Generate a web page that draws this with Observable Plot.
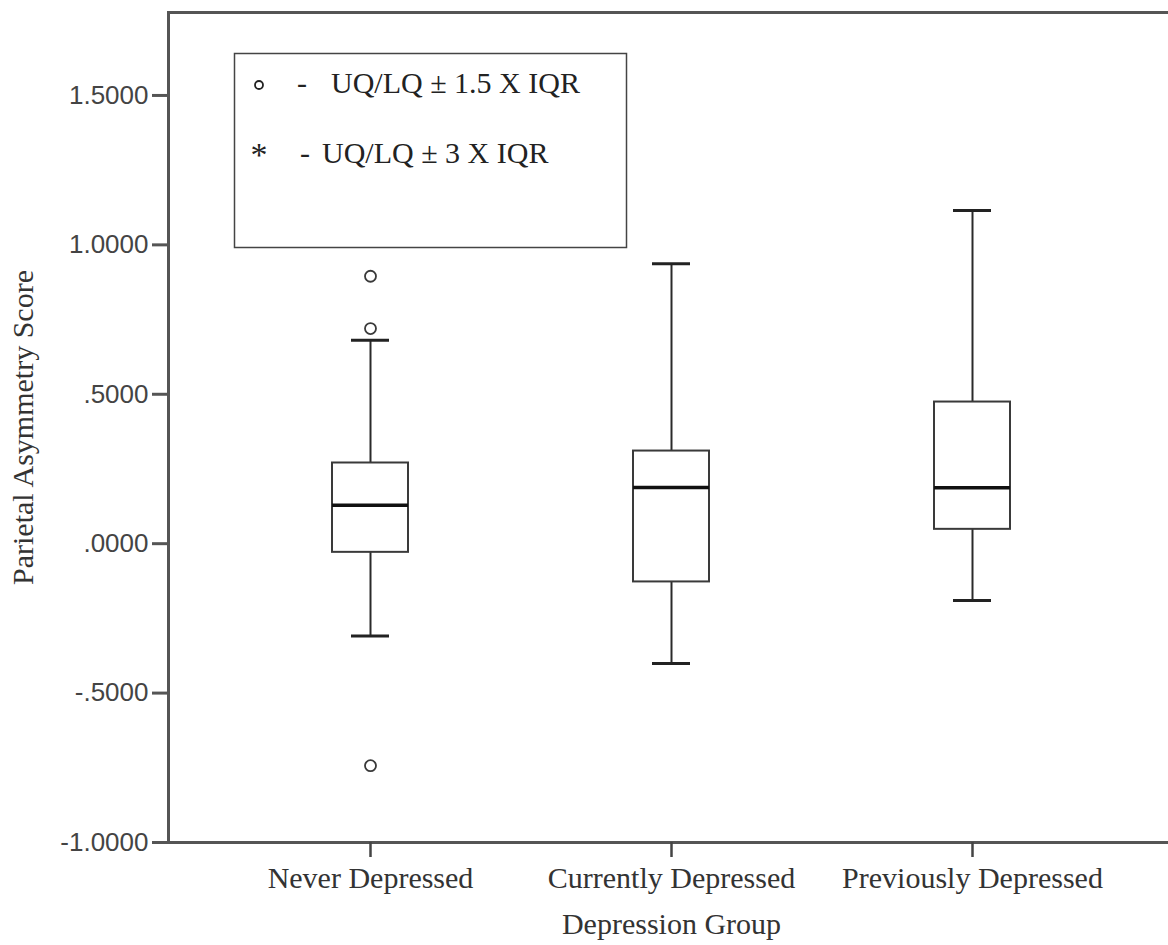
<!DOCTYPE html>
<html><head><meta charset="utf-8">
<script src="https://cdn.jsdelivr.net/npm/d3@7"></script>
<script src="https://cdn.jsdelivr.net/npm/@observablehq/plot@0.6"></script>
<style>
html,body{margin:0;padding:0;background:#fff;overflow:hidden;}
#wrap{position:relative;width:1168px;height:945px;overflow:hidden;}
#wrap svg{max-width:none !important;}
</style></head><body><div id="wrap"></div>
<script>
const groups = ["Never Depressed", "Currently Depressed", "Previously Depressed"];
const whiskerLow = [-0.309, -0.401, -0.190];
const q1 = [-0.029, -0.128, 0.048];
const median = [0.129, 0.188, 0.187];
const q3 = [0.270, 0.310, 0.474];
const whiskerHigh = [0.681, 0.937, 1.115];
const outlierGroup = ["Never Depressed", "Never Depressed", "Never Depressed"];
const outlierValue = [0.895, 0.720, -0.743];
const yTicks = [-1, -0.5, 0, 0.5, 1, 1.5];
const yTickLabels = ["-1.0000", "-.5000", ".0000", ".5000", "1.0000", "1.5000"];
const xTitle = "Depression Group";
const yTitle = "Parietal Asymmetry Score";
const legendLabels = ["UQ/LQ \u00b1 1.5 X IQR", "UQ/LQ \u00b1 3 X IQR"];

const boxes = groups.map((g, i) => ({group: g, lo: whiskerLow[i], q1: q1[i], med: median[i], q3: q3[i], hi: whiskerHigh[i]}));
const outliers = outlierGroup.map((g, i) => ({group: g, value: outlierValue[i]}));

const serif = "'Liberation Serif', 'Times New Roman', serif";
const sans = "'Liberation Sans', Arial, sans-serif";

const chart = Plot.plot({
  width: 1180, height: 945,
  marginLeft: 168, marginRight: 6, marginTop: 12, marginBottom: 103,
  style: {background: "#fff", fontFamily: serif, overflow: "visible", maxWidth: "none"},
  x: {type: "band", domain: groups, paddingInner: 0.748, paddingOuter: 0.54, label: null},
  y: {domain: [-1, 1.7776], label: null},
  marks: [
    Plot.ruleX(boxes, {x: "group", y1: "lo", y2: "q1", stroke: "#2a2a2a", strokeWidth: 2}),
    Plot.ruleX(boxes, {x: "group", y1: "q3", y2: "hi", stroke: "#2a2a2a", strokeWidth: 2}),
    Plot.tickY(boxes, {x: "group", y: "lo", insetLeft: 19, insetRight: 19, stroke: "#222", strokeWidth: 3}),
    Plot.tickY(boxes, {x: "group", y: "hi", insetLeft: 19, insetRight: 19, stroke: "#222", strokeWidth: 3}),
    Plot.barY(boxes, {x: "group", y1: "q1", y2: "q3", fill: "#fff", stroke: "#3a3a3a", strokeWidth: 2}),
    Plot.tickY(boxes, {x: "group", y: "med", stroke: "#111", strokeWidth: 3.5}),
    Plot.dot(outliers, {x: "group", y: "value", r: 5.5, stroke: "#3a3a3a", strokeWidth: 1.8, fill: "none"}),
    Plot.frame({stroke: "#555", strokeWidth: 3}),
    Plot.axisY({ticks: yTicks, tickFormat: d => yTickLabels[yTicks.indexOf(d)], tickSize: 16, tickPadding: 4,
      stroke: "#555", strokeWidth: 3, fill: "#444", fontSize: 26, fontFamily: sans, label: null}),
    Plot.axisX({tickSize: 15, tickPadding: 9, stroke: "#444", strokeWidth: 2.5, fill: "#333",
      fontSize: 30, fontFamily: serif, label: null}),
    Plot.text([yTitle], {text: d => d, frameAnchor: "left", dx: -145, rotate: -90, textAnchor: "middle", lineAnchor: "middle",
      fontSize: 30, fontFamily: serif, fill: "#333"}),
    Plot.text([xTitle], {text: d => d, frameAnchor: "bottom", dy: 82, textAnchor: "middle", lineAnchor: "middle",
      fontSize: 30, fontFamily: serif, fill: "#333"})
  ]
});
chart.style.maxWidth = "none";
document.getElementById("wrap").appendChild(chart);

// Legend box (annotation inside the plot area)
const svg = d3.select(chart);
const lg = svg.append("g").attr("font-family", serif).attr("fill", "#222").attr("text-anchor", "start");
lg.append("rect").attr("x", 234.5).attr("y", 53.5).attr("width", 392).attr("height", 194)
  .attr("fill", "#fff").attr("stroke", "#444").attr("stroke-width", 1.5);
lg.append("circle").attr("cx", 259).attr("cy", 85).attr("r", 4).attr("fill", "none").attr("stroke", "#222").attr("stroke-width", 1.8);
lg.append("text").attr("x", 259).attr("y", 166).attr("text-anchor", "middle").attr("font-size", 34).text("*");
lg.append("text").attr("x", 297).attr("y", 93).attr("font-size", 30).text("-");
lg.append("text").attr("x", 300).attr("y", 163).attr("font-size", 30).text("-");
lg.append("text").attr("x", 331).attr("y", 93).attr("font-size", 30).text(legendLabels[0]);
lg.append("text").attr("x", 322).attr("y", 163).attr("font-size", 30).text(legendLabels[1]);
</script></body></html>
